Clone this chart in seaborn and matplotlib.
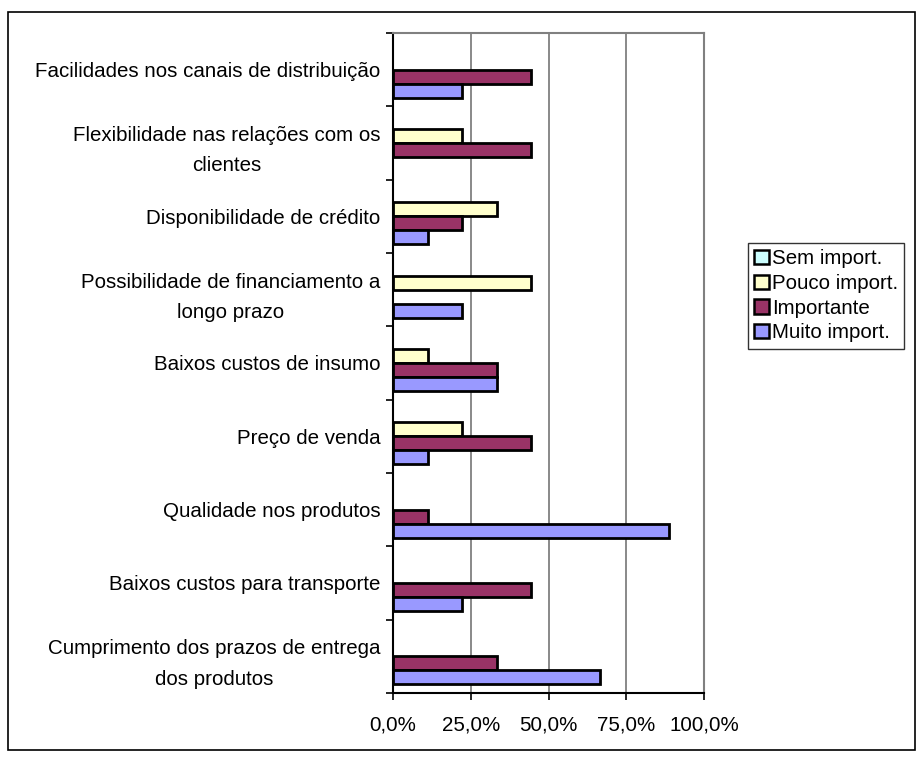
import matplotlib
matplotlib.use("Agg")
import matplotlib.pyplot as plt
from matplotlib.patches import Patch, Rectangle
import seaborn as sns
import pandas as pd

categories = [
    "Facilidades nos canais de distribuição",
    "Flexibilidade nas relações com os\nclientes",
    "Disponibilidade de crédito",
    "Possibilidade de financiamento a\nlongo prazo",
    "Baixos custos de insumo",
    "Preço de venda",
    "Qualidade nos produtos",
    "Baixos custos para transporte",
    "Cumprimento dos prazos de entrega\ndos produtos",
]
series = ["Sem import.", "Pouco import.", "Importante", "Muito import."]
sem_import = [0.0, 0.0, 0.0, 0.0, 0.0, 0.0, 0.0, 0.0, 0.0]
pouco_import = [0.0, 22.2, 33.3, 44.4, 11.1, 22.2, 0.0, 0.0, 0.0]
importante = [44.4, 44.4, 22.2, 0.0, 33.3, 44.4, 11.1, 44.4, 33.3]
muito_import = [22.2, 0.0, 11.1, 22.2, 33.3, 11.1, 88.9, 22.2, 66.7]
colors = ["#CCFFFF", "#FFFFCC", "#993366", "#9999FF"]
xticks = [0, 25, 50, 75, 100]
xtick_labels = ["0,0%", "25,0%", "50,0%", "75,0%", "100,0%"]

rows = []
for name, vals in zip(series, [sem_import, pouco_import, importante, muito_import]):
    for c, v in zip(categories, vals):
        rows.append({"cat": c, "serie": name, "val": v})
df = pd.DataFrame(rows)

sns.set_style("white")
plt.rcParams["font.family"] = ["Liberation Sans", "DejaVu Sans"]
plt.rcParams["text.color"] = "black"
plt.rcParams["xtick.color"] = "black"
plt.rcParams["ytick.color"] = "black"

FS = 14.8

fig = plt.figure(figsize=(9.21, 7.6), dpi=100)
ax = fig.add_axes([393 / 921, 1 - 693 / 760, (704 - 393) / 921, (693 - 33) / 760])

sns.barplot(data=df, x="val", y="cat", hue="serie", order=categories,
            hue_order=series, palette=colors, orient="h", width=0.76,
            edgecolor="black", linewidth=2.0, saturation=1, ax=ax,
            legend=False, errorbar=None)

# zero-valued bars are invisible in the reference
for p in ax.patches:
    if abs(p.get_width()) < 1e-9:
        p.set_linewidth(0)

ax.set_xlim(0, 100)
ax.set_ylim(len(categories) - 0.5, -0.5)
ax.set_xticks(xticks)
ax.set_xticklabels(xtick_labels, fontsize=FS)
ax.set_xlabel("")
ax.set_ylabel("")

# category ticks at boundaries, labels at centers
ax.set_yticks([i for i in range(len(categories))])
ax.set_yticklabels(categories, fontsize=FS)
ax.tick_params(axis="y", which="major", length=0, pad=9)
ax.set_yticks([i - 0.5 for i in range(len(categories) + 1)], minor=True)
ax.tick_params(axis="y", which="minor", length=5, width=1.2, color="black", left=True)
ax.tick_params(axis="x", length=5, width=1.2, color="black", bottom=True, pad=11)
for lab in ax.get_yticklabels():
    lab.set_multialignment("center")
    lab.set_linespacing(1.75)
    lab.set_color("black")
for lab in ax.get_xticklabels():
    lab.set_color("black")

ax.grid(False)
for x in xticks[1:]:
    ax.axvline(x, color="#808080", linewidth=1.3, zorder=0)
ax.spines["left"].set_color("black")
ax.spines["left"].set_linewidth(1.5)
ax.spines["bottom"].set_color("black")
ax.spines["bottom"].set_linewidth(1.5)
ax.spines["top"].set_color("#808080")
ax.spines["top"].set_linewidth(1.5)
ax.spines["right"].set_color("#808080")
ax.spines["right"].set_linewidth(1.5)

handles = [Patch(facecolor=c, edgecolor="black", linewidth=1.8) for c in colors]
leg = fig.legend(handles, series, loc="upper left",
                 bbox_to_anchor=(748 / 921, 1 - 243 / 760),
                 fontsize=FS, frameon=True, fancybox=False,
                 handlelength=0.7, handleheight=0.7, handletextpad=0.15,
                 labelspacing=0.28, borderpad=0.3, borderaxespad=0)
leg.get_frame().set_edgecolor("black")
leg.get_frame().set_linewidth(1.0)
for t in leg.get_texts():
    t.set_color("black")

# outer chart border
fig.patches.append(Rectangle((8 / 921, 1 - 750 / 760), (915 - 8) / 921, (750 - 12) / 760,
                             transform=fig.transFigure, fill=False,
                             edgecolor="black", linewidth=1.2))

fig.savefig("out.png", dpi=100)
